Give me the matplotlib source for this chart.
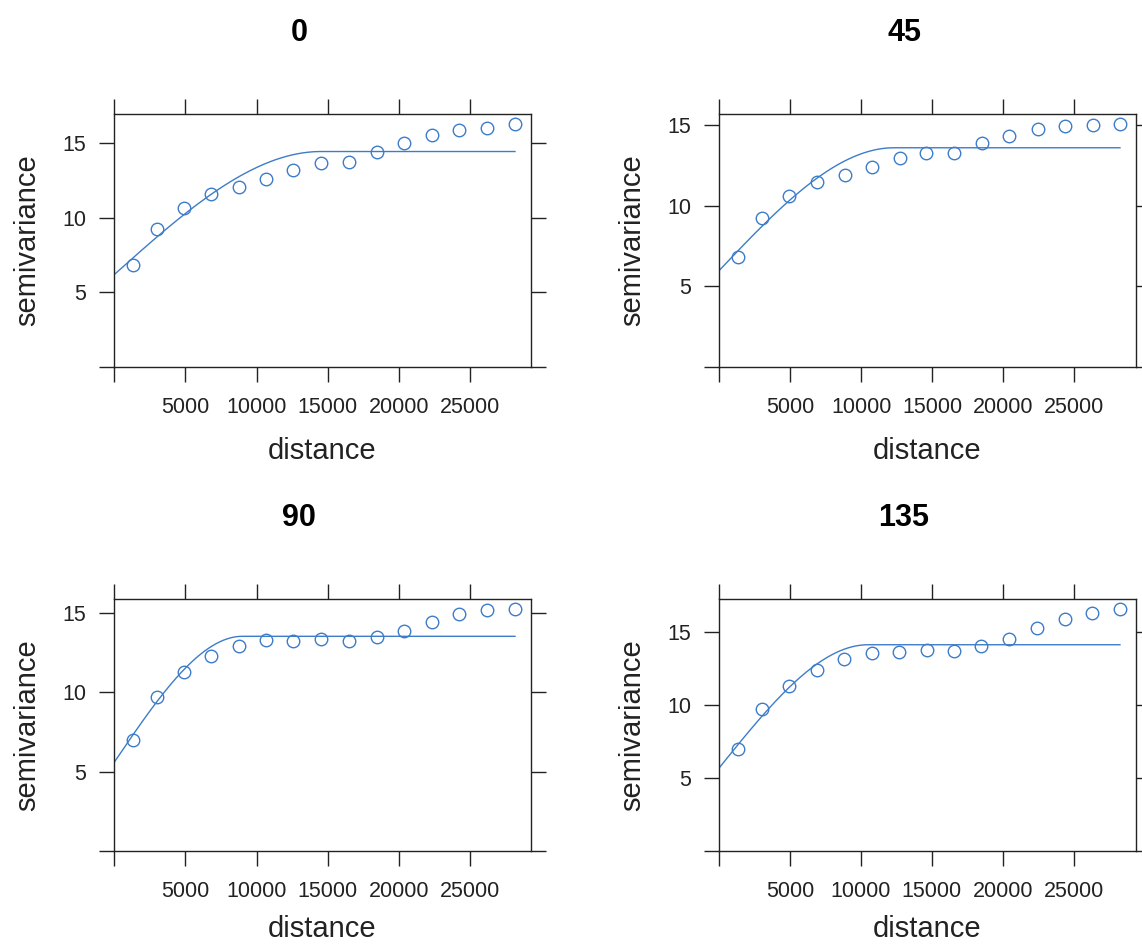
import numpy as np
import matplotlib
matplotlib.use("Agg")
import matplotlib.pyplot as plt

plt.rcParams['font.family'] = ['Liberation Sans', 'DejaVu Sans']

# directions (panel titles)
directions = ["0", "45", "90", "135"]

# sample variogram: mean lag distance per bin
dist_0 = [1300, 3000, 4930, 6810, 8750, 10630, 12560, 14540, 16470, 18410, 20340, 22270, 24200, 26140, 28120]
dist_45 = [1340, 3040, 4940, 6880, 8830, 10770, 12720, 14590, 16540, 18480, 20430, 22420, 24370, 26310, 28210]
dist_90 = [1300, 3000, 4930, 6810, 8750, 10630, 12560, 14540, 16470, 18410, 20340, 22270, 24200, 26140, 28120]
dist_135 = [1340, 3040, 4940, 6880, 8830, 10770, 12720, 14630, 16540, 18480, 20430, 22420, 24370, 26310, 28260]

# sample variogram: semivariance per bin
gamma_0 = [6.84, 9.26, 10.61, 11.55, 12.02, 12.58, 13.18, 13.63, 13.74, 14.37, 14.98, 15.54, 15.83, 15.99, 16.28]
gamma_45 = [6.84, 9.22, 10.59, 11.44, 11.89, 12.39, 12.93, 13.26, 13.28, 13.88, 14.32, 14.73, 14.96, 14.98, 15.08]
gamma_90 = [7.00, 9.70, 11.27, 12.26, 12.94, 13.27, 13.25, 13.36, 13.23, 13.48, 13.88, 14.43, 14.93, 15.21, 15.27]
gamma_135 = [7.01, 9.73, 11.33, 12.39, 13.12, 13.58, 13.60, 13.79, 13.69, 14.04, 14.54, 15.30, 15.87, 16.28, 16.60]

# fitted spherical models (nugget, partial sill, range)
nugget = [6.17, 5.97, 5.57, 5.68]
psill = [8.25, 7.62, 7.96, 8.45]
vrange = [14500, 12300, 9000, 10500]

xticks = [0, 5000, 10000, 15000, 20000, 25000]
xticklabels = ["", "5000", "10000", "15000", "20000", "25000"]
yticks = [0, 5, 10, 15]
yticklabels = ["", "5", "10", "15"]

COL = "#3d7cc9"
TXT = "#222222"


def spherical(h, nug, ps, a):
    r = np.minimum(h / a, 1.0)
    return nug + ps * (1.5 * r - 0.5 * r ** 3)


def draw_panel(ax, title, dist, gamma, nug, ps, a, tx, ty, xlabpad):
    dist = np.array(dist)
    gamma = np.array(gamma)
    h = np.linspace(0, dist.max(), 300)
    ax.plot(h, spherical(h, nug, ps, a), color=COL, lw=1.0)
    ax.plot(dist, gamma, 'o', mfc='none', mec=COL, mew=1.0, ms=9)
    ax.set_xlim(0, 1.04 * dist.max())
    ax.set_ylim(0, 1.04 * gamma.max())
    ax.set_xticks(xticks)
    ax.set_xticklabels(xticklabels)
    ax.set_yticks(yticks)
    ax.set_yticklabels(yticklabels)
    ax.tick_params(direction='out', length=10.8, width=1.0, top=True, right=True,
                   labelsize=15.5, colors=TXT)
    ax.tick_params(axis='x', pad=10.5)
    ax.tick_params(axis='y', pad=9.4)
    for s in ax.spines.values():
        s.set_linewidth(1.0)
        s.set_color(TXT)
    ax.set_xlabel("distance", fontsize=21, labelpad=xlabpad, color=TXT)
    ax.set_ylabel("semivariance", fontsize=21, labelpad=15, color=TXT)
    ax.figure.text(tx, ty, title, fontsize=22, fontweight='bold',
                   ha='center', va='center')


def main():
    fig = plt.figure(figsize=(11.42, 9.47), dpi=100)
    W, H = 1142.0, 947.0
    # frame boxes in pixels: left, top, right, bottom
    boxes = [(114, 114, 531, 367), (719, 114, 1136, 367),
             (114, 599, 531, 851), (719, 599, 1136, 851)]
    titles_xy = [(299, 33), (904, 33), (299, 518), (904, 518)]
    xlabpads = [14, 14, 10, 10]
    dists = [dist_0, dist_45, dist_90, dist_135]
    gammas = [gamma_0, gamma_45, gamma_90, gamma_135]
    for i in range(4):
        l, t, r, b = boxes[i]
        ax = fig.add_axes([l / W, 1 - b / H, (r - l) / W, (b - t) / H])
        tx, ty = titles_xy[i]
        draw_panel(ax, directions[i], dists[i], gammas[i],
                   nugget[i], psill[i], vrange[i], tx / W, 1 - ty / H,
                   xlabpads[i])
    fig.savefig("out.png", dpi=100)


if __name__ == '__main__':
    main()
